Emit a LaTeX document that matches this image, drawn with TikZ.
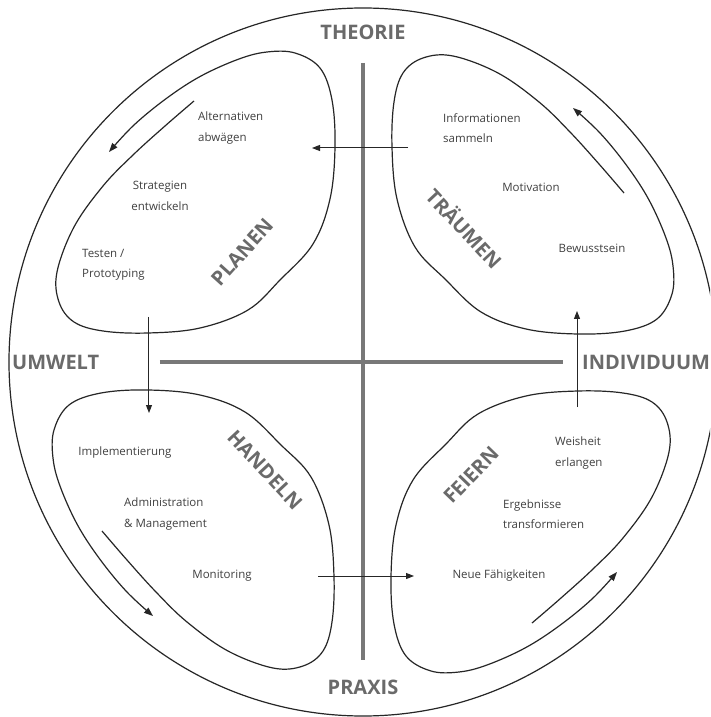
\documentclass[tikz,border=0pt]{standalone}
\usepackage{fontspec}
\setmainfont{Open Sans}
\usetikzlibrary{arrows.meta}
\definecolor{inkline}{HTML}{262626}
\definecolor{bargray}{HTML}{787878}
\definecolor{labgray}{HTML}{6A6A6A}
\definecolor{txtgray}{HTML}{404040}
\tikzset{
 ring/.style={draw=inkline, line width=1.2pt},
 petal/.style={draw=inkline, line width=1.2pt, -{Triangle[length=9pt,width=6.5pt]}},
 bar/.style={draw=bargray, line width=4.5pt},
 flow/.style={draw=inkline, line width=1pt, -{Triangle[length=8pt,width=6pt]}},
 axislabel/.style={font=\fontsize{20}{24}\selectfont\bfseries, text=labgray, inner sep=0pt},
 phaselabel/.style={font=\fontsize{20}{24}\selectfont\bfseries, text=labgray, inner sep=0pt},
 item/.style={font=\fontsize{11.5}{20.5}\selectfont, text=txtgray, inner sep=0pt, align=left},
}
\begin{document}
\begin{tikzpicture}[x=1pt,y=1pt]
\useasboundingbox (-363,-355) rectangle (347,362);
\clip (-363,-355) rectangle (347,362);
\fill[white] (-363,-355) rectangle (347,362);
\draw[ring] (0,0) circle (354pt);
\draw[bar] (0,299) -- (0,-298);
\draw[bar, line width=4pt] (-203,0) -- (200,0);
\foreach \r/\n in {0/1,90/2,180/3,270/4}{
 \begin{scope}[rotate=\r]
  \draw[petal] plot[smooth, tension=0.6] coordinates {
   (261,169) (236,198) (207,230) (176,260) (135,289) (90,306) (60,304) (40,289)
   (31,260) (29,215) (34,163) (52,115) (82,83) (118,50) (163,33) (215,28)
   (262,31) (294,43) (309,68) (310,96) (303,124) (286,162) (264,196) (237,229) (210,254)};
  \coordinate (from\n) at (45,214);
  \coordinate (to\n) at (-51,214);
  \draw[flow] (from\n) -- (to\n);
 \end{scope}
}
% axis labels
\node[axislabel] (theorie) at (0,330) {THEORIE};
\node[axislabel] (praxis) at (0,-325) {PRAXIS};
\node[axislabel, anchor=west] (umwelt) at (-351,0) {UMWELT};
\node[axislabel, anchor=west] (indiv) at (219,0) {INDIVIDUUM};
% phase labels
\node[phaselabel, rotate=48] (planen) at (-121,110) {PLANEN};
\node[phaselabel, rotate=-47] (traeumen) at (102,134) {TRÄUMEN};
\node[phaselabel, rotate=-47] (handeln) at (-98,-108) {HANDELN};
\node[phaselabel, rotate=46] (feiern) at (108,-113) {FEIERN};
% items
\node[item, anchor=west] (alt) at (-165,234) {Alternativen\\abwägen};
\node[item, align=center] (strat) at (-203,166) {Strategien\\entwickeln};
\node[item, anchor=west] (test) at (-281,97) {Testen /\\Prototyping};
\node[item, anchor=west] (info) at (80,234) {Informationen\\sammeln};
\node[item] (motiv) at (168,175) {Motivation};
\node[item] (bew) at (229,114) {Bewusstsein};
\node[item] (impl) at (-238,-91) {Implementierung};
\node[item, anchor=west] (admin) at (-239,-152) {Administration\\\& Management};
\node[item] (monit) at (-141,-214) {Monitoring};
\node[item, anchor=west] (weis) at (192,-91) {Weisheit\\erlangen};
\node[item, anchor=west] (ergeb) at (140,-152) {Ergebnisse\\transformieren};
\node[item] (neue) at (136,-214) {Neue Fähigkeiten};
\end{tikzpicture}
\end{document}
